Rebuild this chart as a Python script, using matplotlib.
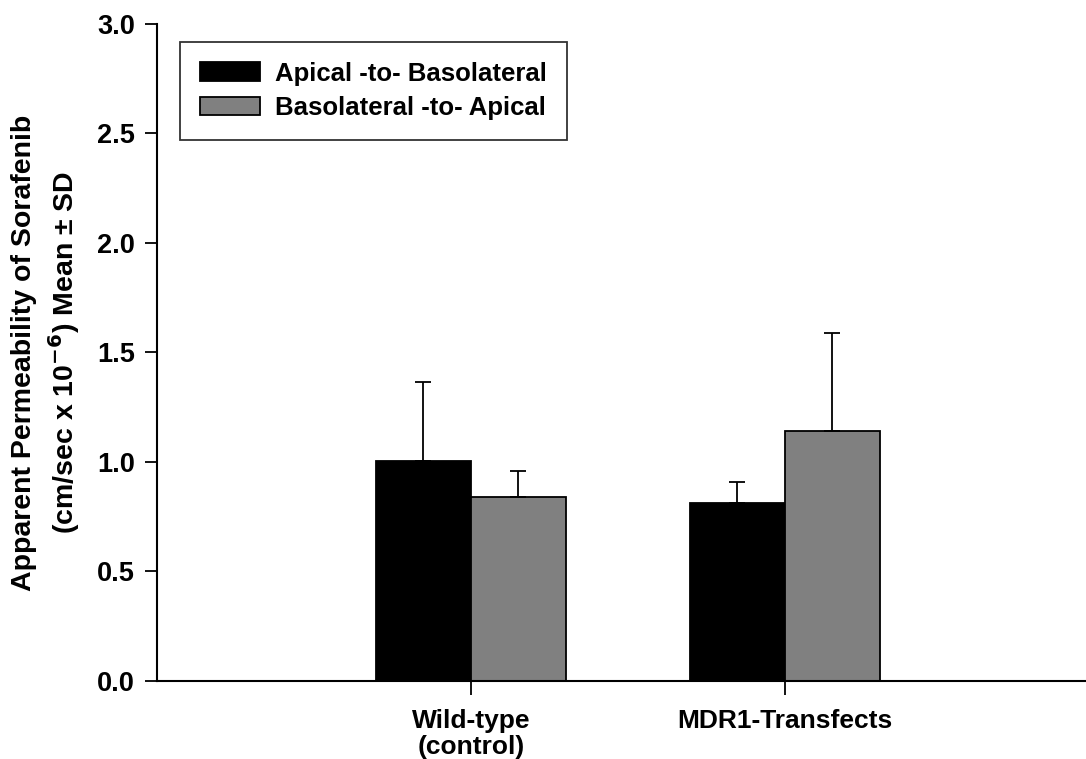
import numpy as np
import matplotlib
matplotlib.use('Agg')
from matplotlib import pyplot as plt

plt.rcParams['font.family'] = 'Liberation Sans'
plt.rcParams['font.weight'] = 'bold'

groups = ['Wild-type\n(control)', 'MDR1-Transfects']
series = ['Apical -to- Basolateral', 'Basolateral -to- Apical']
apical_mean = [1.005, 0.811]
apical_sd = [0.36, 0.099]
baso_mean = [0.842, 1.140]
baso_sd = [0.118, 0.448]

fig = plt.figure(figsize=(10.86, 7.59), dpi=100)
ax = fig.add_axes([0.1446, 0.1028, 0.867, 0.8656])

x = np.array([1, 2])
w = 0.302
err_kw = dict(capsize=6, capthick=1.3, elinewidth=1.3, ecolor='black')
ax.bar(x - w / 2, apical_mean, w, color='black', edgecolor='black', linewidth=1.3,
       label=series[0])
ax.errorbar(x - w / 2, apical_mean, yerr=[np.zeros(2), apical_sd], fmt='none', **err_kw)
ax.bar(x + w / 2, baso_mean, w, color='#808080', edgecolor='black', linewidth=1.3,
       label=series[1])
ax.errorbar(x + w / 2, baso_mean, yerr=[np.zeros(2), baso_sd], fmt='none', **err_kw)

ax.set_xlim(0, 3)
ax.set_ylim(0, 3.0)
ax.set_yticks(np.arange(0, 3.01, 0.5))
ax.set_yticklabels(['%.1f' % v for v in np.arange(0, 3.01, 0.5)])
ax.set_xticks(x)
ax.set_xticklabels(groups, fontsize=19, fontweight='bold', linespacing=1.1)
ax.tick_params(axis='y', direction='out', length=9, width=1.3, labelsize=19.5, pad=7)
ax.tick_params(axis='x', direction='out', length=10, width=1.3, pad=10)
for s in ['top', 'right']:
    ax.spines[s].set_visible(False)
for s in ['left', 'bottom']:
    ax.spines[s].set_linewidth(1.5)

ax.set_ylabel('Apparent Permeability of Sorafenib\n(cm/sec x 10$^{\\mathbf{-6}}$) Mean \u00b1 SD',
              fontsize=20.5, fontweight='bold', labelpad=11, linespacing=1.3)

leg = ax.legend(loc='upper left', bbox_to_anchor=(0.0245, 0.973), fontsize=18.5,
                frameon=True, fancybox=False, edgecolor='black', handlelength=2.33,
                handleheight=0.74, borderpad=0.78, labelspacing=0.4, handletextpad=0.6,
                borderaxespad=0)
leg.get_frame().set_linewidth(1.3)

fig.savefig('out.png', dpi=100)
